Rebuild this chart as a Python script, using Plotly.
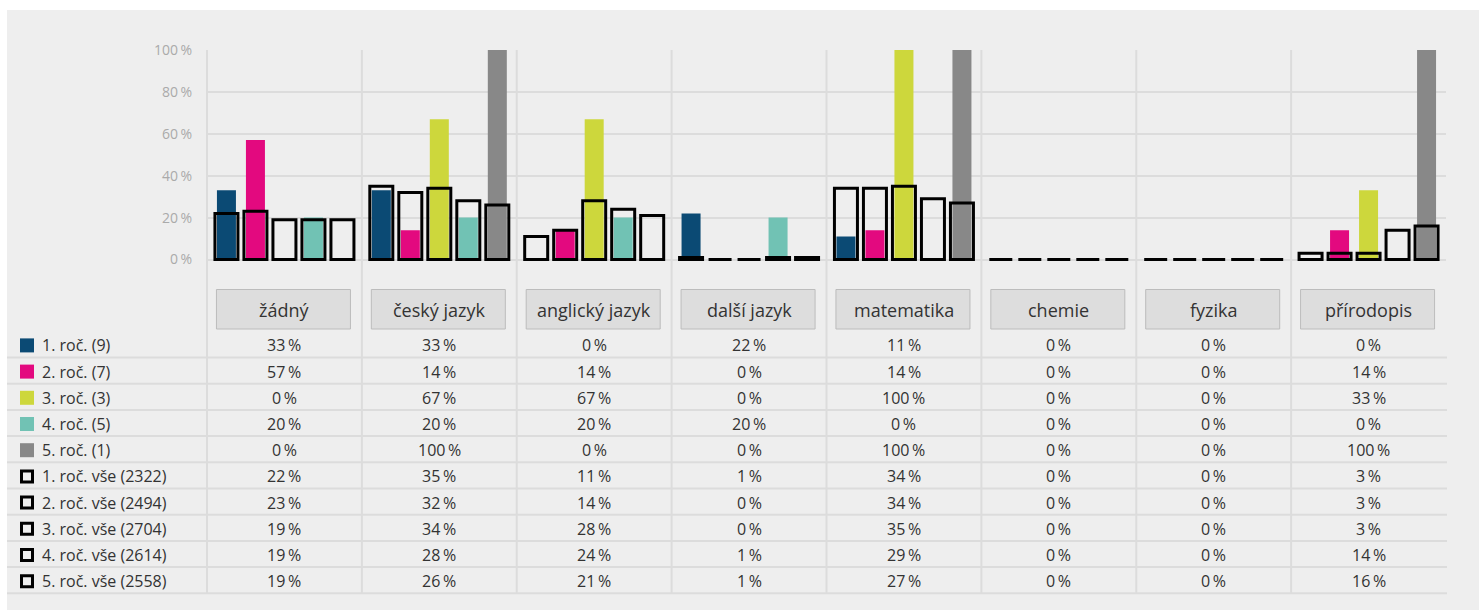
import plotly.graph_objects as go

# ---- data -------------------------------------------------------------
categories = ["žádný", "český jazyk", "anglický jazyk", "další jazyk",
              "matematika", "chemie", "fyzika", "přírodopis"]

class_labels = ["1. roč. (9)", "2. roč. (7)", "3. roč. (3)", "4. roč. (5)", "5. roč. (1)"]
class_colors = ["#0b4a74", "#e3097f", "#cdd73c", "#71c2b4", "#888888"]

roc1 = [33, 33, 0, 22, 11, 0, 0, 0]
roc2 = [57, 14, 14, 0, 14, 0, 0, 14]
roc3 = [0, 67, 67, 0, 100, 0, 0, 33]
roc4 = [20, 20, 20, 20, 0, 0, 0, 0]
roc5 = [0, 100, 0, 0, 100, 0, 0, 100]

all_labels = ["1. roč. vše (2322)", "2. roč. vše (2494)", "3. roč. vše (2704)",
              "4. roč. vše (2614)", "5. roč. vše (2558)"]
all1 = [22, 35, 11, 1, 34, 0, 0, 3]
all2 = [23, 32, 14, 0, 34, 0, 0, 3]
all3 = [19, 34, 28, 0, 35, 0, 0, 3]
all4 = [19, 28, 24, 1, 29, 0, 0, 14]
all5 = [19, 26, 21, 1, 27, 0, 0, 16]

y_ticks = [0, 20, 40, 60, 80, 100]

class_series = [roc1, roc2, roc3, roc4, roc5]
all_series = [all1, all2, all3, all4, all5]

# ---- geometry helpers (pixel layout -> paper coords) -------------------
W, H = 1480, 610
def px(x):
    return x / W
def py(y):
    return 1 - y / H

PLOT_L, PLOT_R = 207, 1446
Y0_PX, Y100_PX = 259.5, 50
Y_MIN = -3
unit = (Y0_PX - Y100_PX) / 100
y_bottom_px = Y0_PX - Y_MIN * unit

cat_w = (PLOT_R - PLOT_L) / len(categories)
slot = 29 / cat_w
fill_w = 19 / cat_w
box_w = 23 / cat_w

SEP = "\u2009"
TXT = "#333333"
GRID = "#dcdcdc"
FONT = "Open Sans"

fig = go.Figure()

# filled bars for the small groups
for i, (name, color, vals) in enumerate(zip(class_labels, class_colors, class_series)):
    fig.add_trace(go.Bar(
        x=categories, y=vals, name=name,
        width=fill_w, offset=(i - 2) * slot - fill_w / 2,
        marker=dict(color=color, line=dict(width=0)),
        showlegend=False, hoverinfo="skip",
    ))

# outlined bars for the whole-year totals, drawn on top
for i, (name, vals) in enumerate(zip(all_labels, all_series)):
    fig.add_trace(go.Bar(
        x=categories, y=vals, name=name,
        width=box_w, offset=(i - 2) * slot - box_w / 2,
        marker=dict(color="rgba(0,0,0,0)", line=dict(color="#000000", width=3)),
        showlegend=False, hoverinfo="skip",
    ))

shapes = []
# background panel
shapes.append(dict(type="rect", xref="paper", yref="paper",
                   x0=px(7), x1=px(1479), y0=py(612), y1=py(10),
                   fillcolor="#eeeeee", line=dict(width=0), layer="below"))

# vertical separators between categories, running through the table
for k in range(len(categories)):
    x = PLOT_L + k * cat_w
    shapes.append(dict(type="line", xref="paper", yref="paper",
                       x0=px(x), x1=px(x), y0=py(50), y1=py(593.5),
                       line=dict(color=GRID, width=2), layer="below"))

# table row separators
ROW0 = 357.5
ROW_H = 26.2
n_rows = len(class_labels) + len(all_labels)
for r in range(n_rows):
    y = ROW0 + r * ROW_H
    shapes.append(dict(type="line", xref="paper", yref="paper",
                       x0=px(7), x1=px(1447), y0=py(y), y1=py(y),
                       line=dict(color=GRID, width=2), layer="below"))

# category header boxes
for k in range(len(categories)):
    cxp = PLOT_L + (k + 0.5) * cat_w - 1
    shapes.append(dict(type="rect", xref="paper", yref="paper",
                       x0=px(cxp - 67), x1=px(cxp + 67), y0=py(329), y1=py(289.5),
                       fillcolor="#dddddd", line=dict(color="#bcbcbc", width=1),
                       layer="below"))

# legend swatches
row_labels = class_labels + all_labels
for r in range(n_rows):
    yc = ROW0 - ROW_H / 2 + r * ROW_H + 1
    if r < len(class_labels):
        shapes.append(dict(type="rect", xref="paper", yref="paper",
                           x0=px(20), x1=px(34), y0=py(yc + 7), y1=py(yc - 7),
                           fillcolor=class_colors[r], line=dict(width=0)))
    else:
        shapes.append(dict(type="rect", xref="paper", yref="paper",
                           x0=px(21.5), x1=px(32.5), y0=py(yc + 5.5), y1=py(yc - 5.5),
                           fillcolor="rgba(0,0,0,0)", line=dict(color="#000000", width=3)))

annotations = []
# header labels
for k, cat in enumerate(categories):
    annotations.append(dict(x=cat, xref="x", y=py(310), yref="paper",
                            text=cat, showarrow=False, xanchor="center", yanchor="middle",
                            font=dict(family=FONT, size=18, color=TXT)))

# legend labels and table values
table_series = class_series + all_series
for r in range(n_rows):
    yc = ROW0 - ROW_H / 2 + r * ROW_H + 1
    annotations.append(dict(x=px(40), xref="paper", y=py(yc), yref="paper",
                            text=row_labels[r], showarrow=False,
                            xanchor="left", yanchor="middle",
                            font=dict(family=FONT, size=16, color=TXT)))
    for k, cat in enumerate(categories):
        annotations.append(dict(x=cat, xref="x", y=py(yc), yref="paper",
                                text=f"{table_series[r][k]}{SEP}%", showarrow=False,
                                xanchor="center", yanchor="middle",
                                font=dict(family=FONT, size=16, color=TXT)))

fig.update_layout(
    width=W, height=H, autosize=False,
    margin=dict(l=0, r=0, t=0, b=0, pad=0, autoexpand=False),
    paper_bgcolor="#ffffff", plot_bgcolor="rgba(0,0,0,0)",
    barmode="overlay",
    font=dict(family=FONT, color=TXT),
    xaxis=dict(domain=[px(PLOT_L), px(PLOT_R)], type="category",
               categoryorder="array", categoryarray=categories,
               range=[-0.5, len(categories) - 0.5],
               showticklabels=False, showgrid=False, zeroline=False,
               showline=False, ticks="", automargin=False),
    yaxis=dict(domain=[py(y_bottom_px), py(Y100_PX)], range=[Y_MIN, 100],
               tickvals=y_ticks, ticktext=[f"{v}{SEP}%" for v in y_ticks],
               showgrid=True, gridcolor=GRID, gridwidth=2, zeroline=False,
               showline=False, ticks="", ticklabelstandoff=14, automargin=False,
               tickfont=dict(family=FONT, size=14, color="#aaaaaa")),
    shapes=shapes,
    annotations=annotations,
    showlegend=False,
)

fig.write_html("out.html")
